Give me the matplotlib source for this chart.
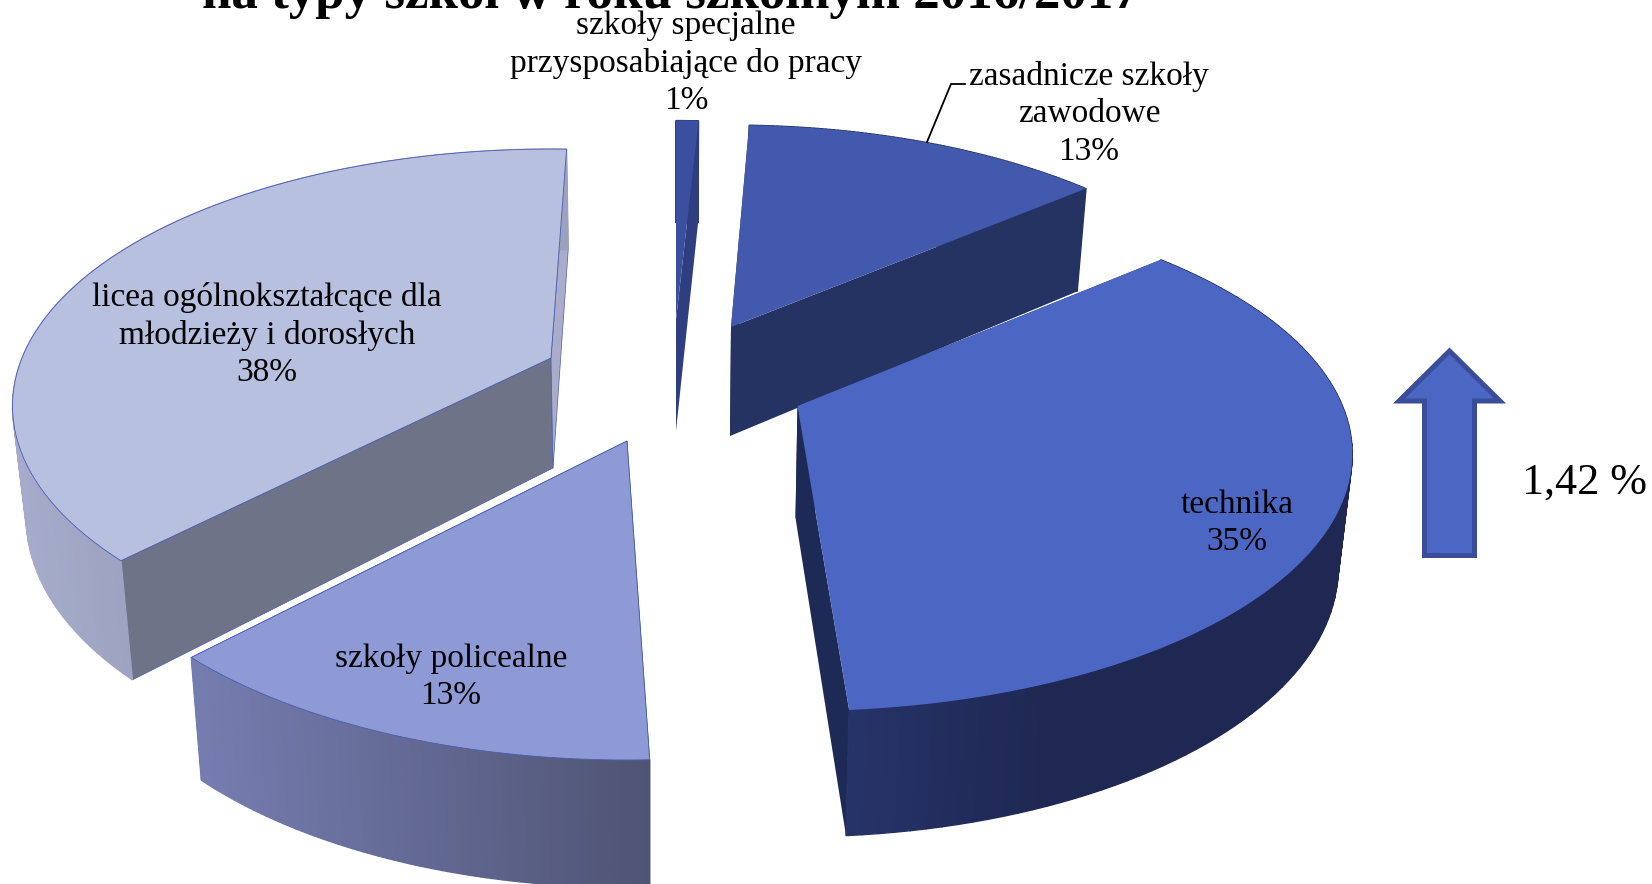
import numpy as np
import matplotlib
matplotlib.use("Agg")
import matplotlib.pyplot as plt
from matplotlib.colors import to_rgb
from matplotlib.patches import Polygon

# data, clockwise from the top of the pie
categories = ["szkoły specjalne\nprzysposabiające do pracy", "zasadnicze szkoły\nzawodowe",
              "technika", "szkoły policealne", "licea ogólnokształcące dla\nmłodzieży i dorosłych"]
shares = [0.8, 13.2, 35.3, 12.6, 38.1]
change_label = "1,42 %"
title_line = "na typy szkół w roku szkolnym 2016/2017"

# layout per slice, in pixels
apex_x = [676, 731, 797.5, 627, 551]
apex_y = [320, 327, 406, 441, 358]
bottom_dx = [0, -1, -2, 0.5, 2]
bottom_dy = [111, 109, 112, 113, 110]
radius_x = [540, 525, 545, 540, 529]
radius_y = [240, 243, 248, 254, 248]
persp = [0.2037, 0.2037, 0.187, 0.2037, 0.187]
angle_shift = [0.5, 1.0, 2.4, -0.1, -1.5]
top_colors = ["#3A4F9F", "#4259AD", "#4C66C4", "#8E9AD6", "#B8C0E0"]
start_face = ["#2E3E80", "#243361", "#1E2A56", "#6F78A8", "#6F7387"]
end_face = ["#2E3E80", "#243361", "#1E2A56", "#6F78A8", "#A9ADCB"]
wall_left = ["#2E3E80", "#243361", "#27346A", "#757DB0", "#A6ABCB"]
wall_right = ["#2E3E80", "#243361", "#1F2853", "#4F5474", "#9BA1BE"]
wall_x0 = [600, 700, 850, 200, 20]
wall_x1 = [700, 1100, 1050, 650, 145]
edge_colors = ["none", "none", "none", "#4A5CB0", "#4A5CB0"]
label_x = [686, 1089, 1237, 451, 267]
label_y = [63, 114, 523, 677, 335]
draw_order = [1, 0, 4, 2, 3]

START_ANGLE = 89.5
BOTTOM_SX = 0.978
BOTTOM_SY = 1.045


def project(i, ang, bottom=False):
    s = 1 / (1 + persp[i] * np.sin(ang))
    dx = radius_x[i] * np.cos(ang) * s
    dy = -radius_y[i] * np.sin(ang) * s
    if bottom:
        return apex_x[i] + bottom_dx[i] + BOTTOM_SX * dx, apex_y[i] + bottom_dy[i] + BOTTOM_SY * dy
    return apex_x[i] + dx, apex_y[i] + dy


fig = plt.figure(figsize=(16.52, 8.84), dpi=100)
ax = fig.add_axes([0, 0, 1, 1])
ax.set_xlim(0, 1652)
ax.set_ylim(884, 0)
ax.axis("off")

plt.rcParams["font.family"] = ["Liberation Serif", "DejaVu Serif"]

# slice angles come from the shares
ends = START_ANGLE - np.cumsum(shares) * 3.6
starts = np.concatenate([[START_ANGLE], ends[:-1]])

for z, i in enumerate(draw_order):
    a = np.radians(np.linspace(starts[i], ends[i], 90) + angle_shift[i])
    tx, ty = project(i, a)
    bx, by = project(i, a, bottom=True)
    base = 10 + z * 10
    ax_b, ay_b = apex_x[i] + bottom_dx[i], apex_y[i] + bottom_dy[i]

    # the two cut faces go first, the wall and top cover whatever is hidden
    ax.add_patch(Polygon([(apex_x[i], apex_y[i]), (tx[0], ty[0]), (bx[0], by[0]), (ax_b, ay_b)],
                         facecolor=start_face[i], edgecolor=edge_colors[i], lw=0.5, zorder=base))
    ax.add_patch(Polygon([(apex_x[i], apex_y[i]), (tx[-1], ty[-1]), (bx[-1], by[-1]), (ax_b, ay_b)],
                         facecolor=end_face[i], edgecolor=edge_colors[i], lw=0.5, zorder=base + 1))

    # outer wall as thin strips so it can shade from left to right
    c0, c1 = np.array(to_rgb(wall_left[i])), np.array(to_rgb(wall_right[i]))
    for j in range(len(a) - 1):
        t = np.clip((tx[j] - wall_x0[i]) / (wall_x1[i] - wall_x0[i]), 0, 1)
        col = c0 + (c1 - c0) * t
        ax.add_patch(Polygon([(tx[j], ty[j]), (tx[j + 1], ty[j + 1]), (bx[j + 1], by[j + 1]), (bx[j], by[j])],
                             facecolor=col, edgecolor=col, lw=1.0, zorder=base + 2))

    # top
    ax.add_patch(Polygon(np.column_stack([np.r_[apex_x[i], tx], np.r_[apex_y[i], ty]]),
                         facecolor=top_colors[i], edgecolor=edge_colors[i], lw=0.6, zorder=base + 3))

for i, name in enumerate(categories):
    ax.text(label_x[i], label_y[i], f"{name}\n{shares[i]:.0f}%", ha="center", va="center",
            fontsize=24, linespacing=1.28, color="#000000", zorder=100)

# leader line for the zasadnicze label
ax.plot([927, 951, 965], [142, 84, 84], color="black", lw=1.3, zorder=100)

# arrow on the right
ax.add_patch(Polygon([(1449.5, 351), (1500, 401), (1474.5, 401), (1474.5, 555.5), (1424.5, 555.5), (1424.5, 401), (1399, 401)],
                     facecolor="#4C66C4", edgecolor="#3A4D9A", lw=3.6, joinstyle="miter", zorder=50))
ax.text(1584, 483, change_label, ha="center", va="center", fontsize=31.8, color="black")

ax.text(671, 8, title_line, ha="center", va="baseline", fontsize=38.2, fontweight="bold", color="black")

fig.savefig("out.png", dpi=100)
